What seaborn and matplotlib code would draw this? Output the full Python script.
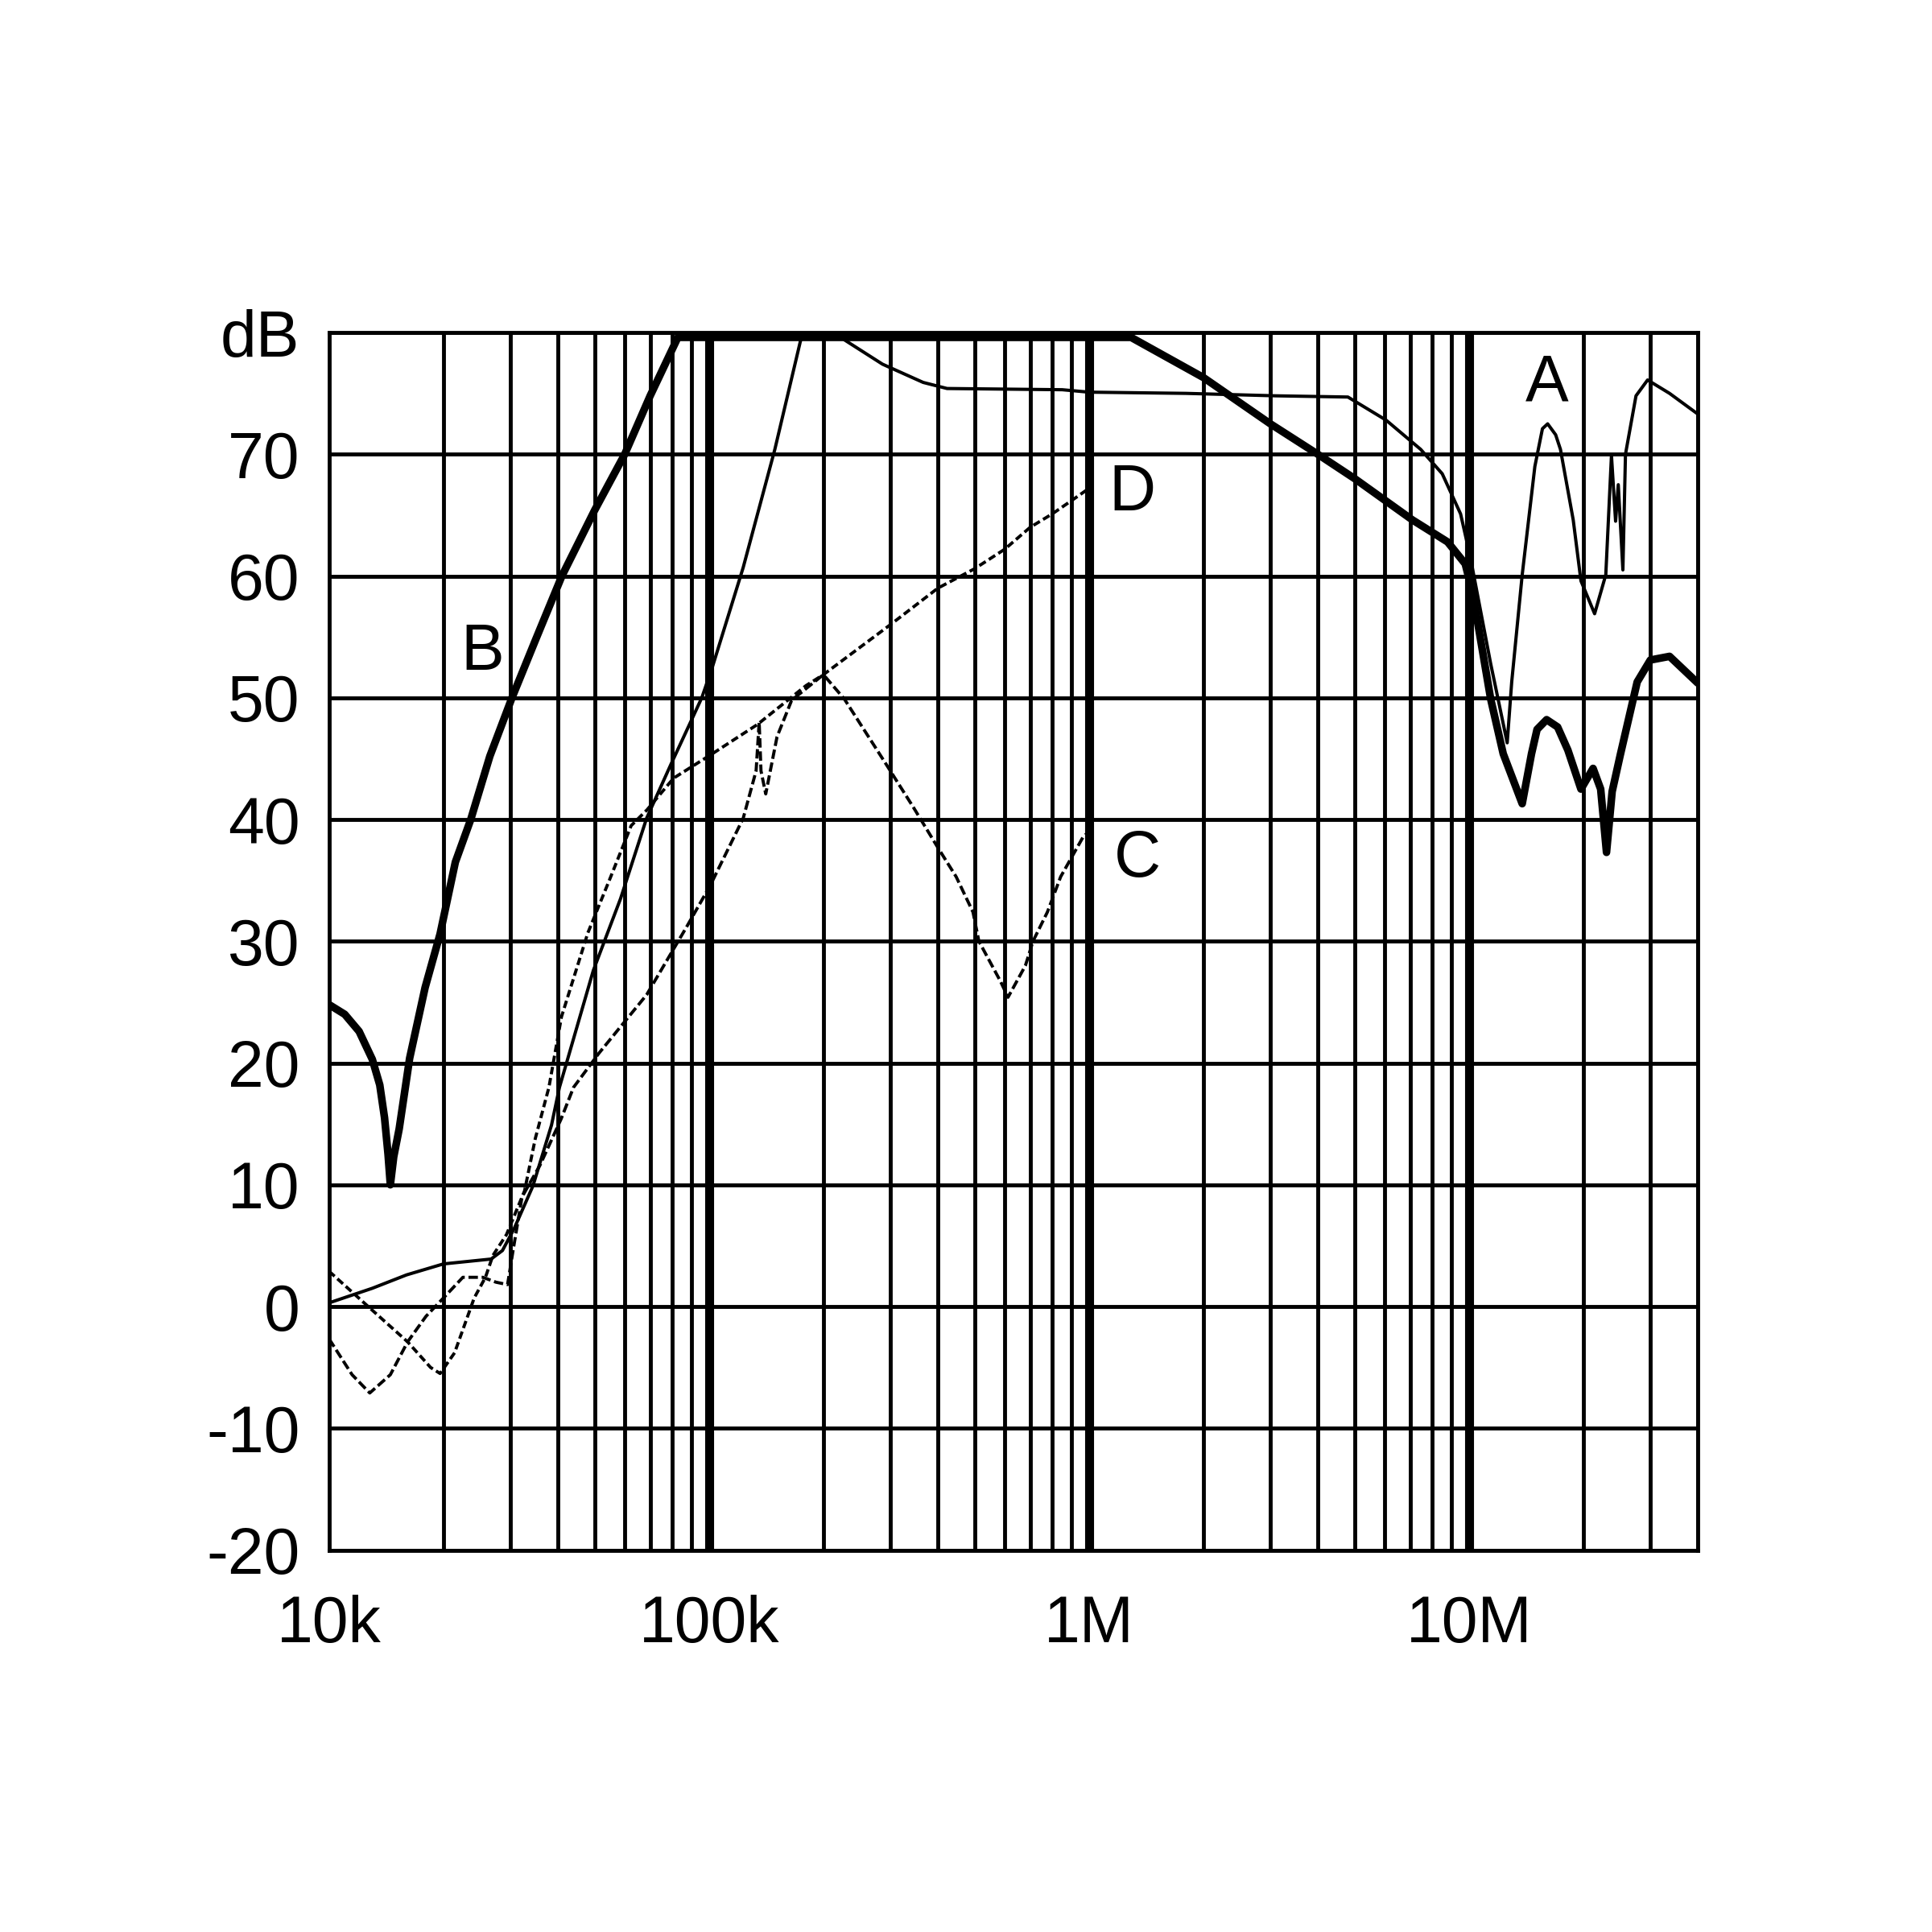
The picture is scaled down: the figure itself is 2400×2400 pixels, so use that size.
import numpy as np
import pandas as pd
import matplotlib
matplotlib.use('Agg')
import matplotlib.pyplot as plt
import seaborn as sns
from matplotlib.ticker import LogLocator, NullFormatter

# curve A (thin solid line)
freq_a = [10e3, 13e3, 16e3, 20e3, 26.7e3, 28.6e3, 30.7e3, 34.4e3, 38.5e3, 40.4e3,
          49.6e3, 58.5e3, 68.5e3, 79.3e3, 88.8e3, 95.7e3, 102e3, 123e3, 149e3, 174e3,
          195e3, 210e3, 227e3, 286e3, 366e3, 423e3, 850e3, 1e6, 1.8e6, 3.1e6,
          4.8e6, 6.05e6, 7.46e6, 8.5e6, 9.5e6, 10.07e6, 11.4e6, 12.2e6, 12.6e6, 12.95e6,
          13.8e6, 14.9e6, 15.6e6, 16.1e6, 16.9e6, 17.4e6, 18.8e6, 19.7e6, 21.4e6, 22.9e6,
          23.7e6, 24.3e6, 24.7e6, 25.4e6, 25.8e6, 27.5e6, 29.5e6, 33.7e6, 40e6]
db_a = [0.3, 1.5, 2.6, 3.5, 3.9, 4.6, 6.4, 9.9, 14.9, 18.0,
        27.6, 33.5, 40.1, 44.5, 47.8, 50.0, 52.5, 60.7, 70.4, 79.3,
        82.0, 81.0, 79.4, 77.4, 75.9, 75.4, 75.3, 75.1, 75.0, 74.8,
        74.7, 72.8, 70.4, 68.4, 65.1, 61.6, 52.8, 48.4, 46.3, 51.3,
        60.1, 69.0, 72.1, 72.5, 71.6, 70.4, 64.6, 59.6, 56.9, 60.1,
        69.9, 64.5, 67.5, 60.5, 70.0, 74.8, 76.1, 75.0, 73.3]

# curve B (thick solid line)
freq_b = [10e3, 11e3, 12e3, 13e3, 13.6e3, 14e3, 14.3e3, 14.5e3, 14.8e3, 15.3e3,
          16.3e3, 17.9e3, 19.6e3, 21.5e3, 23.6e3, 26.5e3, 30.3e3, 35e3, 41e3, 50e3,
          60e3, 70e3, 82.8e3, 86e3, 1.29e6, 2e6, 3e6, 4e6, 5e6, 7.1e6,
          8.78e6, 9.77e6, 10.2e6, 10.6e6, 11.4e6, 12.3e6, 13.8e6, 14.6e6, 15.1e6, 16e6,
          17.1e6, 18.2e6, 19.7e6, 21.2e6, 22.2e6, 23e6, 23.8e6, 25e6, 27.7e6, 30e6,
          33.7e6, 40e6]
db_b = [24.8, 24.0, 22.6, 20.3, 18.2, 15.5, 12.5, 10.0, 12.3, 14.6,
        20.4, 26.2, 30.6, 36.5, 40.0, 45.2, 50.0, 54.8, 60.0, 65.4,
        70.0, 74.8, 79.6, 79.6, 79.6, 76.3, 72.5, 70.0, 68.0, 64.6,
        62.8, 61.0, 58.7, 55.7, 49.9, 45.4, 41.3, 45.4, 47.4, 48.2,
        47.6, 45.7, 42.5, 44.2, 42.5, 37.3, 42.3, 45.3, 51.3, 53.1,
        53.4, 51.2]

# curve C (dashed)
freq_c = [10e3, 11.5e3, 12.8e3, 14.5e3, 16.1e3, 18e3, 20e3, 22.5e3, 25.4e3, 27.5e3,
          29.5e3, 30.5e3, 32.2e3, 35.9e3, 40.8e3, 44e3, 51.3e3, 68.5e3, 87e3, 100.8e3,
          123e3, 133e3, 135.5e3, 137e3, 141e3, 151e3, 165e3, 200e3, 227e3, 293e3,
          345e3, 400e3, 447e3, 495e3, 513e3, 585e3, 612e3, 680e3, 712e3, 777e3,
          842e3, 966e3, 1e6]
db_c = [-2.65, -5.6, -7.1, -5.6, -2.9, -0.8, 0.7, 2.4, 2.4, 2.0,
        1.8, 4.6, 9.0, 11.6, 15.4, 18.0, 20.8, 25.6, 31.1, 34.6,
        40.1, 44.0, 48.0, 44.0, 42.1, 46.8, 49.8, 51.9, 49.9, 44.5,
        41.0, 37.7, 35.3, 32.4, 30.0, 26.7, 25.4, 28.0, 30.0, 32.4,
        35.3, 38.6, 39.0]

# curve D (dashed)
freq_d = [10e3, 13.1e3, 16.1e3, 18.5e3, 19.6e3, 21.4e3, 24.1e3, 25.8e3, 27e3, 29.3e3,
          32.7e3, 34.9e3, 37.9e3, 40.9e3, 48e3, 54.8e3, 62.4e3, 68.7e3, 80.7e3, 102e3,
          134e3, 180e3, 200e3, 300e3, 400e3, 500e3, 600e3, 700e3, 800e3, 900e3, 1e6]
db_d = [2.9, -0.4, -2.9, -5.0, -5.5, -3.8, 0.7, 2.4, 4.2, 5.9,
        9.5, 13.8, 18.0, 23.8, 30.7, 35.1, 39.5, 40.8, 43.4, 45.4,
        47.8, 51.0, 51.9, 56.0, 59.0, 60.6, 62.2, 64.0, 65.1, 66.2, 67.2]

x_ticks = [1e4, 1e5, 1e6, 1e7]
x_labels = ['10k', '100k', '1M', '10M']
y_ticks = list(range(-20, 81, 10))
y_labels = [str(v) for v in y_ticks[:-1]] + ['dB']

curve_labels = ['A', 'B', 'C', 'D']
label_x = [16e6, 25.3e3, 1.34e6, 1.30e6]
label_y = [75.8, 53.7, 36.7, 66.8]

sns.set_style('white')
plt.rcParams['font.family'] = ['Liberation Sans', 'DejaVu Sans']
plt.rcParams['text.color'] = 'black'

fig = plt.figure(figsize=(24, 24), dpi=100)
ax = fig.add_axes([0.1703, 0.1977, 0.7085, 0.6302])
ax.set_xscale('log')

sns.lineplot(x=freq_a, y=db_a, ax=ax, color='black', lw=2.9, estimator=None, sort=False)
sns.lineplot(x=freq_b, y=db_b, ax=ax, color='black', lw=6.8, estimator=None, sort=False)
sns.lineplot(x=freq_c, y=db_c, ax=ax, color='black', lw=2.8, estimator=None, sort=False,
             linestyle=(0, (3, 1.2)))
sns.lineplot(x=freq_d, y=db_d, ax=ax, color='black', lw=2.8, estimator=None, sort=False,
             linestyle=(0, (2.4, 1.2)))

ax.set_xlim(1e4, 4e7)
ax.set_ylim(-20, 80)
ax.set_xticks(x_ticks)
ax.set_xticklabels(x_labels)
ax.xaxis.set_minor_locator(LogLocator(base=10, subs=range(2, 10), numticks=20))
ax.xaxis.set_minor_formatter(NullFormatter())
ax.set_yticks(y_ticks)
ax.set_yticklabels(y_labels)

ax.grid(which='major', axis='x', color='black', lw=8)
ax.grid(which='minor', axis='x', color='black', lw=3.5)
ax.grid(which='major', axis='y', color='black', lw=3.5)
ax.xaxis.get_major_ticks()[0].gridline.set_visible(False)

ax.tick_params(axis='x', which='both', length=0, pad=40, labelsize=58, labelcolor='black')
ax.tick_params(axis='y', which='major', length=9, width=3.5, pad=17, labelsize=58,
               direction='out', color='black', labelcolor='black')
for s in ax.spines.values():
    s.set_color('black')
    s.set_linewidth(3.5)

for t, x, y in zip(curve_labels, label_x, label_y):
    ax.text(x, y, t, ha='center', va='center', fontsize=58, color='black')

ax.set_xlabel('')
ax.set_ylabel('')
fig.savefig('out.png', dpi=100, facecolor='white')
